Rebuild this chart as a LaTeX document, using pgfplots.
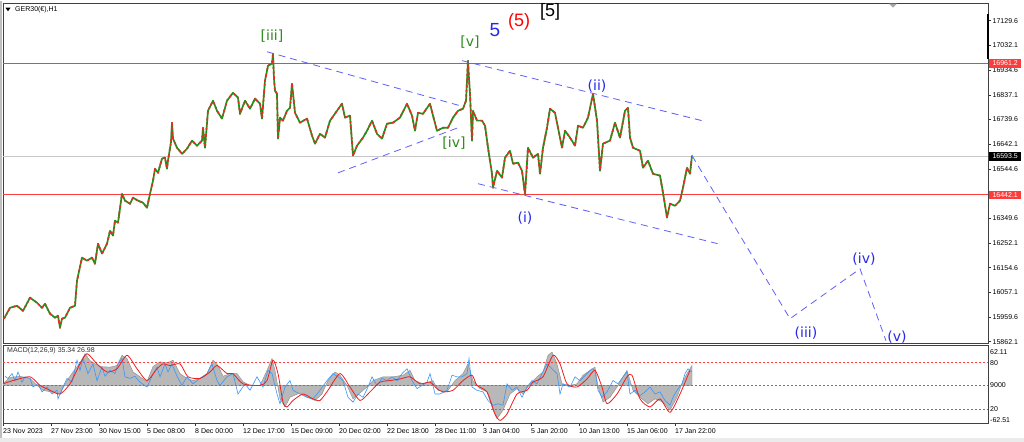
\documentclass[border=0pt]{standalone}
\usepackage{pgfplots}
\usepackage{pgfplotstable}
\pgfplotsset{compat=1.18}
\usepackage{fontspec}
\setmainfont{Liberation Sans}
\newfontfamily\ewfont{DejaVu Sans}
\definecolor{candG}{RGB}{25,150,25}
\definecolor{candR}{RGB}{240,40,40}
\definecolor{ewgreen}{RGB}{45,140,30}
\definecolor{ewblue}{RGB}{40,40,235}
\definecolor{chanblue}{RGB}{95,95,250}
\definecolor{lvlred}{RGB}{255,60,60}
\definecolor{macdblue}{RGB}{55,150,250}
\definecolor{sigred}{RGB}{240,30,30}

\pgfplotstableread{
x y
4 15953
10 15996
17 16004
23 15984
30 16036
37 16016
42 15996
45 16012
50 15973
55 15957
58 15965
60 15917
62 15953
65 15957
70 15996
75 16004
77 16103
82 16194
87 16182
92 16194
95 16170
98 16249
102 16210
107 16249
110 16300
113 16281
115 16340
118 16332
122 16446
125 16419
130 16407
133 16431
138 16419
143 16411
147 16391
150 16446
153 16498
155 16545
158 16529
162 16585
165 16589
167 16545
168 16577
171 16650
172 16727
173 16664
177 16628
182 16604
187 16624
192 16656
197 16636
202 16656
203 16707
205 16628
208 16774
213 16814
217 16774
222 16743
227 16814
233 16845
238 16826
240 16762
245 16814
250 16782
255 16822
260 16802
262 16743
265 16893
268 16952
272 16960
273 16999
274 16900
275 16853
277 16841
278 16664
280 16747
283 16735
287 16774
290 16786
292 16881
295 16766
300 16727
307 16743
312 16676
315 16644
320 16683
325 16668
330 16735
337 16774
342 16802
345 16747
350 16755
353 16597
357 16636
363 16668
367 16695
372 16735
377 16683
382 16664
387 16723
393 16727
400 16747
407 16802
412 16755
415 16695
418 16766
423 16762
430 16802
433 16755
437 16695
443 16707
448 16707
453 16747
458 16774
463 16782
466 16814
468 16972
469 16900
470 16841
472 16656
473 16774
477 16735
482 16735
485 16715
488 16628
492 16525
493 16470
497 16537
502 16510
505 16589
510 16616
513 16565
518 16569
522 16537
525 16445
528 16628
533 16589
538 16604
540 16525
543 16628
547 16707
550 16782
555 16766
558 16707
562 16628
565 16695
570 16668
575 16636
578 16715
583 16707
588 16747
593 16841
597 16735
600 16537
603 16644
610 16656
615 16727
620 16668
625 16774
628 16786
630 16668
633 16628
640 16616
643 16549
648 16577
653 16525
660 16518
663 16450
667 16352
670 16407
675 16399
680 16419
683 16470
687 16549
690 16525
692 16597
}\price

\pgfplotstableread{
x v
3 3
10 15
20 17
30 13
37 0
43 -9
53 -13
60 -16
67 9
73 25
80 42
85 59
90 46
100 35
110 34
117 37
122 56
127 50
133 25
140 16
147 7
153 35
160 44
165 42
170 44
173 47
180 22
187 13
193 9
200 13
207 22
213 47
218 37
223 17
230 22
237 22
243 7
250 0
260 0
267 28
272 50
275 28
280 -25
285 -40
290 -22
300 -14
307 -22
315 -28
322 -16
328 9
335 25
340 19
347 0
353 -25
360 -14
367 -3
373 9
383 16
393 16
403 19
410 28
415 9
423 3
433 9
438 -9
447 -12
455 9
463 22
468 40
473 9
480 -6
487 -12
493 -46
497 -62
503 -46
510 -16
517 -6
523 -16
530 3
537 16
543 25
548 56
552 62
557 40
562 3
570 0
577 3
583 19
590 28
595 34
598 -3
603 -31
610 -22
617 -3
623 16
627 28
633 -9
640 -22
648 -34
655 -25
663 -31
670 -46
677 -22
683 9
688 25
692 37
}\hist

\pgfplotstableread{
x v
5 17
8 13
12 22
15 9
18 25
22 6
25 16
30 13
33 -3
38 3
42 -12
47 -3
52 -16
57 -9
58 -25
63 -3
67 13
72 6
77 47
80 28
83 50
88 22
93 40
97 9
102 34
105 17
110 28
115 22
118 40
122 50
125 16
130 13
135 17
140 6
147 -3
152 17
157 34
160 16
165 40
168 25
172 40
177 17
182 0
187 16
193 3
200 13
207 22
212 40
217 9
220 0
227 16
233 22
238 -16
245 3
250 -9
257 16
263 -3
268 28
272 22
277 -16
280 -34
285 -3
290 9
293 -9
300 -16
307 -22
313 -25
320 -9
327 9
333 22
338 16
343 9
348 -22
353 -31
358 -16
363 -22
368 -3
372 16
377 0
382 13
387 9
392 16
397 9
402 22
407 31
412 9
417 -6
422 0
427 6
430 22
435 -16
440 -16
447 -9
452 19
457 16
462 16
467 22
469 50
472 -3
477 -9
483 -12
488 -28
493 -37
498 -34
503 -37
507 3
512 -9
517 -3
522 -22
527 -3
532 9
537 3
542 22
547 40
552 31
557 22
560 -16
563 3
570 -3
575 16
580 9
587 22
592 31
595 28
598 -9
602 -22
607 -12
613 9
618 3
623 16
627 25
630 -16
635 -9
640 -19
645 -12
650 -3
655 -16
660 -12
665 -28
670 -37
673 -22
677 -9
682 3
685 22
688 31
692 25
}\macdblue

\pgfplotstableread{
x v
3 3
13 9
30 16
40 0
50 -9
60 -16
70 3
80 40
87 59
97 40
107 25
117 31
127 56
137 31
147 9
157 31
163 40
170 37
180 40
188 16
200 13
210 25
217 37
227 22
233 22
243 3
260 0
267 9
273 47
278 22
283 -31
287 -40
293 -28
303 -16
313 -25
320 -28
328 -9
340 22
350 -3
360 -28
370 -12
380 6
390 9
400 12
410 16
420 3
430 6
437 -6
443 -12
453 -9
463 9
472 19
477 0
487 -12
495 -53
500 -65
507 -53
517 -16
527 -9
533 6
543 16
553 56
560 40
567 3
577 -3
587 12
595 28
602 -3
607 -34
617 -16
627 16
632 19
640 -25
650 -40
660 -25
670 -50
680 -16
690 28
}\signal

\begin{document}
\begin{tikzpicture}[x=1pt,y=1pt]
\fill[white] (0,0) rectangle (1024,441);
\fill[black!8] (0,0) rectangle (1024,4);
\fill[black!25] (0,4) rectangle (2,441);

% ---------- main price panel ----------
\begin{axis}[at={(3pt,98pt)}, anchor=south west, scale only axis,
  width=985pt, height=340pt,
  xmin=3, xmax=988, ymin=15854.2, ymax=17196.7,
  clip=false, scaled y ticks=false, scaled x ticks=false,
  axis line style={black!75, line width=0.8pt},
  xtick=\empty,
  ytick={15862.1,15959.6,16057.1,16154.6,16252.1,16349.6,16447.1,16544.6,16642.1,16739.6,16837.1,16934.6,17032.1,17129.6},
  yticklabels={15862.1,15959.6,16057.1,16154.6,16252.1,16349.6,,16544.6,16642.1,16739.6,16837.1,16934.6,17032.1,17129.6},
  ytick pos=right, yticklabel pos=right,
  tick align=outside, major tick length=3pt,
  tick style={black!80, line width=0.5pt},
  yticklabel style={font=\fontsize{7}{8}\selectfont, anchor=west, inner sep=1pt, xshift=0.5pt},
]
\addplot[lvlred, line width=0.8pt] coordinates {(3,16961.2) (988,16961.2)};
\addplot[lvlred, line width=0.8pt] coordinates {(3,16442.1) (988,16442.1)};
\addplot[black!22, line width=0.8pt] coordinates {(3,16593.5) (988,16593.5)};

\addplot[candG, line width=1.7pt, line join=round] table[x=x,y=y] {\price};
\addplot[candR, line width=1.7pt, line join=round, dash pattern=on 2pt off 3pt on 1.5pt off 2.5pt on 3pt off 4pt] table[x=x,y=y] {\price};

% wave channels
\addplot[chanblue, line width=0.8pt, dash pattern=on 7pt off 5pt] coordinates {(267,17007) (460,16794)};
\addplot[chanblue, line width=0.8pt, dash pattern=on 7pt off 5pt] coordinates {(338,16529) (458,16707)};
\addplot[chanblue, line width=0.8pt, dash pattern=on 7pt off 5pt] coordinates {(462,16972) (706,16731)};
\addplot[chanblue, line width=0.8pt, dash pattern=on 7pt off 5pt] coordinates {(478,16486) (722,16245)};
\addplot[chanblue, line width=0.8pt, dash pattern=on 7pt off 5pt] coordinates {(692,16597) (790,15953) (860,16150) (886,15866)};

% price boxes
\node[fill=lvlred, text=white, font=\fontsize{7}{8}\selectfont, anchor=west, inner sep=0pt, minimum width=32pt, minimum height=8.5pt] at (axis cs:989,16961.2) {16961.2};
\node[fill=lvlred, text=white, font=\fontsize{7}{8}\selectfont, anchor=west, inner sep=0pt, minimum width=32pt, minimum height=8.5pt] at (axis cs:989,16442.1) {16442.1};
\node[fill=black, text=white, font=\fontsize{7}{8}\selectfont, anchor=west, inner sep=0pt, minimum width=32pt, minimum height=8.5pt] at (axis cs:989,16593.5) {16593.5};
\end{axis}

% ---------- MACD panel ----------
\begin{axis}[at={(3pt,18pt)}, anchor=south west, scale only axis,
  width=985pt, height=78pt,
  xmin=3, xmax=988, ymin=-71.2, ymax=73.8,
  scaled y ticks=false, scaled x ticks=false,
  axis line style={black!75, line width=0.8pt},
  ytick=\empty,
  xtick={3,51,99,147,195,243,291,339,387,435,483,531,579,627,675},
  xticklabels={23 Nov 2023,27 Nov 23:00,30 Nov 15:00,5 Dec 08:00,8 Dec 00:00,12 Dec 17:00,15 Dec 09:00,20 Dec 02:00,22 Dec 18:00,28 Dec 11:00,3 Jan 04:00,5 Jan 20:00,10 Jan 13:00,15 Jan 06:00,17 Jan 22:00},
  xtick pos=bottom, tick align=outside, major tick length=2.5pt,
  tick style={black!80, line width=0.5pt},
  xticklabel style={font=\fontsize{7}{8}\selectfont, anchor=north west, inner sep=0pt, yshift=-2pt},
]
\addplot[fill=black!28, draw=black!45, line width=0.4pt] table[x=x,y=v] {\hist} \closedcycle;
\addplot[lvlred, line width=0.7pt, dash pattern=on 2pt off 2pt] coordinates {(3,42.5) (988,42.5)};
\addplot[lvlred, line width=0.7pt, dash pattern=on 2pt off 2pt] coordinates {(3,0) (988,0)};
\addplot[lvlred, line width=0.7pt, dash pattern=on 2pt off 2pt] coordinates {(3,-44.5) (988,-44.5)};
\addplot[macdblue, line width=0.6pt] table[x=x,y=v] {\macdblue};
\addplot[sigred, line width=0.8pt, smooth, tension=0.4] table[x=x,y=v] {\signal};
\end{axis}

% MACD scale texts
\begin{scope}[every node/.style={font=\fontsize{7}{8}\selectfont, anchor=west, inner sep=0pt}]
\node at (990,89.3) {62.11};
\node at (990,78.3) {80};
\node at (990,57) {9000};
\node at (990,33) {20};
\node at (990,22) {-62.51};
\node[text=black!80] at (7,91) {MACD(12,26,9) 35.34 26.98};
\node at (15,432) {GER30(€),H1};
\end{scope}
\fill[black] (5.5,434) -- (10.5,434) -- (8,430.5) -- cycle;
\fill[black!35] (889,438) -- (897,438) -- (893,434) -- cycle;
\draw[black, line width=2pt] (988,428) -- (988,383);

% Elliott wave labels
\node[ewgreen, font=\ewfont\fontsize{14}{16}\selectfont] at (272,406) {[iii]};
\node[ewgreen, font=\ewfont\fontsize{14}{16}\selectfont] at (470,400) {[v]};
\node[ewgreen, font=\ewfont\fontsize{14}{16}\selectfont] at (454,299) {[iv]};
\node[ewblue, font=\fontsize{19}{21}\selectfont] at (495,412) {5};
\node[red, font=\fontsize{18}{20}\selectfont] at (519,420) {(5)};
\node[black, font=\fontsize{18}{20}\selectfont] at (550,430) {[5]};
\node[ewblue, font=\ewfont\fontsize{14}{16}\selectfont] at (597,356) {(ii)};
\node[ewblue, font=\ewfont\fontsize{14}{16}\selectfont] at (525,224) {(i)};
\node[ewblue, font=\ewfont\fontsize{14}{16}\selectfont] at (806,109) {(iii)};
\node[ewblue, font=\ewfont\fontsize{14}{16}\selectfont] at (864,183) {(iv)};
\node[ewblue, font=\ewfont\fontsize{14}{16}\selectfont] at (897,105) {(v)};
\end{tikzpicture}
\end{document}
